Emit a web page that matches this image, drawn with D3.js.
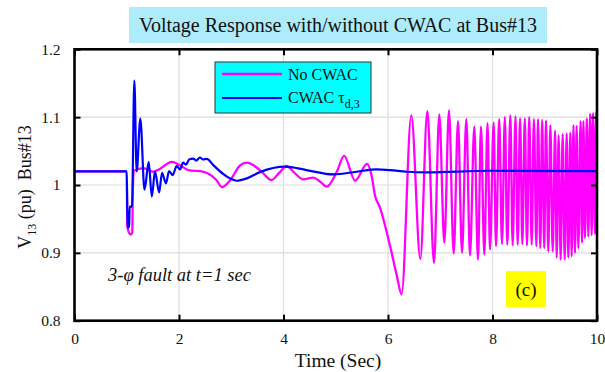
<!DOCTYPE html>
<html>
<head>
<meta charset="utf-8">
<script src="https://cdn.jsdelivr.net/npm/d3@7/dist/d3.min.js"></script>
<style>
  html, body { margin: 0; padding: 0; background: #fff; }
  svg { display: block; font-family: "Liberation Serif", "Times New Roman", serif; }
</style>
</head>
<body>
<svg id="chart" width="605" height="372"></svg>
<script>
// Axis ticks
const timeTicks = [0, 2, 4, 6, 8, 10];
const voltTicks = [0.8, 0.9, 1, 1.1, 1.2];

// Bus#13 voltage without the controller (time in s, voltage in pu)
const noCwacTime = [
  0, 1.0, 1.01, 1.04, 1.08, 1.105, 1.118, 1.135,
  1.32, 1.51, 1.64, 1.86, 2.02, 2.18, 2.47, 2.72, 2.82, 2.98, 3.17, 3.30,
  3.55, 3.77, 3.93, 4.06, 4.19, 4.38, 4.57, 4.70, 4.83, 5.02, 5.16, 5.37,
  5.60, 5.69, 5.75, 5.84, 6.04, 6.17, 6.26,
  6.446, 6.619, 6.753, 6.880, 6.982, 7.078, 7.167, 7.257, 7.340, 7.416,
  7.499, 7.569, 7.652, 7.722, 7.780, 7.843, 7.905, 7.952, 8.022, 8.067,
  8.128, 8.182, 8.236, 8.283, 8.341, 8.386, 8.440, 8.482, 8.528, 8.571,
  8.618, 8.660, 8.703, 8.750, 8.792, 8.840, 8.871, 8.915, 8.950, 8.990,
  9.024, 9.068, 9.107, 9.152, 9.198, 9.229, 9.265, 9.305, 9.343, 9.382,
  9.420, 9.451, 9.490, 9.515, 9.550, 9.579, 9.611, 9.643, 9.686, 9.713,
  9.740, 9.770, 9.805, 9.834, 9.868, 9.898, 9.925, 9.962, 9.985, 10.0
];
const noCwacVolt = [
  1.02, 1.02, 0.94, 0.930, 0.927, 0.930, 1.0, 1.021,
  1.025, 1.0195, 1.024, 1.034, 1.029, 1.022, 1.0195, 1.007, 0.997, 1.007, 1.029, 1.033,
  1.022, 1.0073, 1.019, 1.028, 1.0195, 1.0083, 1.011, 1.005, 0.9976, 1.0195, 1.043, 1.0063,
  1.031, 1.012, 0.985, 0.968, 0.910, 0.866, 0.839,
  1.1025, 0.891, 1.109, 0.885, 1.104, 0.915, 1.110, 0.899, 1.094, 0.900,
  1.097, 0.896, 1.086, 0.890, 1.086, 0.8975, 1.091, 0.905, 1.092, 0.910,
  1.097, 0.913, 1.100, 0.912, 1.1025, 0.911, 1.101, 0.912, 1.098, 0.913,
  1.098, 0.911, 1.100, 0.912, 1.097, 0.910, 1.097, 0.907, 1.096, 0.907,
  1.095, 0.902, 1.088, 0.902, 1.080, 0.893, 1.073, 0.890, 1.075, 0.890,
  1.076, 0.893, 1.077, 0.895, 1.088, 0.900, 1.087, 0.907, 1.094, 0.915,
  1.094, 0.922, 1.098, 0.924, 1.105, 0.926, 1.106, 0.928, 1.108, 1.06
];

// Bus#13 voltage with CWAC tau_d,3
const cwacTime = [
  0, 1.0, 1.015, 1.045, 1.055, 1.10, 1.145, 1.19, 1.26, 1.34, 1.42, 1.48,
  1.54, 1.62, 1.675, 1.75, 1.81, 1.88, 1.955, 2.02, 2.08, 2.13, 2.20, 2.27,
  2.33, 2.40, 2.46, 2.53, 2.66, 2.85, 2.98, 3.10, 3.30, 3.55, 4.03, 4.44,
  4.95, 5.40, 5.78, 6.04, 6.36, 6.74, 7.95, 10.0
];
const cwacVolt = [
  1.02, 1.02, 0.937, 0.939, 0.968, 0.968, 1.154, 1.02, 1.098, 0.993, 1.034, 0.983,
  1.02, 0.989, 1.018, 1.0025, 1.0205, 1.0146, 1.028, 1.023, 1.033, 1.030, 1.038, 1.039,
  1.036, 1.0405, 1.0376, 1.0385, 1.029, 1.016, 1.0095, 1.0063, 1.0098, 1.019, 1.027, 1.022,
  1.0157, 1.0195, 1.023, 1.022, 1.0195, 1.0186, 1.021, 1.0205
];

const svg = d3.select("#chart");
const plot = { left: 74.5, right: 597, top: 49.3, bottom: 320.7 };

const x = d3.scaleLinear().domain([0, 10]).range([plot.left, plot.right]);
const y = d3.scaleLinear().domain([0.8, 1.2]).range([plot.bottom, plot.top]);

// Title banner
const titleG = svg.append("g");
titleG.append("rect")
  .attr("x", 129).attr("y", 7).attr("width", 418).attr("height", 36)
  .attr("fill", "#aeecfb");
titleG.append("text")
  .attr("x", 338).attr("y", 32)
  .attr("text-anchor", "middle")
  .attr("font-size", 20)
  .attr("fill", "#111")
  .text("Voltage Response with/without CWAC at Bus#13");

// Grid
const grid = svg.append("g").attr("stroke", "#dcdcdc").attr("stroke-width", 1.2);
grid.selectAll("line.gx").data(timeTicks.slice(1, -1)).enter().append("line")
  .attr("x1", d => x(d)).attr("x2", d => x(d))
  .attr("y1", plot.top).attr("y2", plot.bottom);
grid.selectAll("line.gy").data(voltTicks.slice(1, -1)).enter().append("line")
  .attr("x1", plot.left).attr("x2", plot.right)
  .attr("y1", d => y(d)).attr("y2", d => y(d));

// Curves
const pts = (ts, vs) => ts.map((t, i) => [t, vs[i]]);
const line = d3.line().x(d => x(d[0])).y(d => y(d[1])).curve(d3.curveMonotoneX);

svg.append("defs").append("clipPath").attr("id", "plotClip")
  .append("rect")
  .attr("x", plot.left).attr("y", plot.top)
  .attr("width", plot.right - plot.left).attr("height", plot.bottom - plot.top);

const curves = svg.append("g").attr("clip-path", "url(#plotClip)");
curves.append("path")
  .attr("d", line(pts(noCwacTime, noCwacVolt)))
  .attr("fill", "none").attr("stroke", "#ff00ff").attr("stroke-width", 2.3)
  .attr("stroke-linejoin", "round");
curves.append("path")
  .attr("d", line(pts(cwacTime, cwacVolt)))
  .attr("fill", "none").attr("stroke", "#0000ff").attr("stroke-width", 2.2)
  .attr("stroke-linejoin", "round");

// Axes: ticks inward on all four sides, box frame
const tickLen = 6;
const fmtY = d => (d === 1 ? "1" : d3.format(".1f")(d));

const bottomAxis = d3.axisBottom(x).tickValues(timeTicks).tickSize(-tickLen).tickPadding(12).tickFormat(d3.format("d"));
const topAxis = d3.axisTop(x).tickValues(timeTicks).tickSize(-tickLen).tickFormat("");
const leftAxis = d3.axisLeft(y).tickValues(voltTicks).tickSize(-tickLen).tickPadding(14).tickFormat(fmtY);
const rightAxis = d3.axisRight(y).tickValues(voltTicks).tickSize(-tickLen).tickFormat("");

function styleAxis(g) {
  g.select(".domain").remove();
  g.selectAll(".tick line").attr("stroke", "#000").attr("stroke-width", 2);
  g.selectAll(".tick text").attr("fill", "#111").attr("font-size", 15.5)
    .attr("font-family", "\"Liberation Serif\", serif");
}
svg.append("g").attr("transform", `translate(0,${plot.bottom})`).call(bottomAxis).call(styleAxis);
svg.append("g").attr("transform", `translate(0,${plot.top})`).call(topAxis).call(styleAxis);
svg.append("g").attr("transform", `translate(${plot.left},0)`).call(leftAxis).call(styleAxis);
svg.append("g").attr("transform", `translate(${plot.right},0)`).call(rightAxis).call(styleAxis);

svg.append("rect")
  .attr("x", plot.left).attr("y", plot.top)
  .attr("width", plot.right - plot.left).attr("height", plot.bottom - plot.top)
  .attr("fill", "none").attr("stroke", "#000").attr("stroke-width", 2.6);

// Axis labels
svg.append("text")
  .attr("x", 338).attr("y", 367)
  .attr("text-anchor", "middle").attr("font-size", 19.5).attr("fill", "#111")
  .text("Time (Sec)");

const yl = svg.append("text")
  .attr("transform", "translate(31,187) rotate(-90)")
  .attr("text-anchor", "middle").attr("font-size", 18).attr("fill", "#111");
yl.append("tspan").text("V");
yl.append("tspan").attr("font-size", 12).attr("dy", 5).text("13");
yl.append("tspan").attr("dy", -5).text(" (pu)\u00a0\u00a0Bus#13");

// Legend
const lg = svg.append("g");
lg.append("rect")
  .attr("x", 215).attr("y", 62).attr("width", 156).attr("height", 51)
  .attr("fill", "#00ffff").attr("stroke", "#333").attr("stroke-width", 1);
lg.append("line").attr("x1", 222).attr("x2", 282).attr("y1", 74).attr("y2", 74)
  .attr("stroke", "#ff00ff").attr("stroke-width", 2.3);
lg.append("line").attr("x1", 222).attr("x2", 282).attr("y1", 98).attr("y2", 98)
  .attr("stroke", "#0000ff").attr("stroke-width", 2.2);
lg.append("text").attr("x", 288).attr("y", 80).attr("font-size", 16).attr("fill", "#111")
  .text("No CWAC");
const l2 = lg.append("text").attr("x", 288).attr("y", 103).attr("font-size", 16).attr("fill", "#111");
l2.append("tspan").text("CWAC \u03c4");
l2.append("tspan").attr("font-size", 12).attr("dy", 5).text("d,3");

// Annotations
svg.append("text")
  .attr("x", 108).attr("y", 281)
  .attr("font-size", 18.5).attr("font-style", "italic").attr("fill", "#111")
  .text("3-\u03c6 fault at t=1 sec");

svg.append("rect")
  .attr("x", 506).attr("y", 271).attr("width", 40).attr("height", 36)
  .attr("fill", "#ffff00");
svg.append("text")
  .attr("x", 526).attr("y", 296)
  .attr("text-anchor", "middle").attr("font-size", 19).attr("fill", "#111")
  .text("(c)");
</script>
</body>
</html>
